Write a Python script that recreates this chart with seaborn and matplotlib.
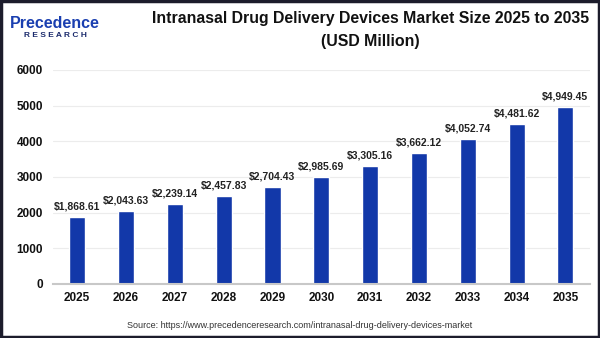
import matplotlib
matplotlib.use('Agg')
import matplotlib.pyplot as plt
import seaborn as sns
import pandas as pd

years = ['2025', '2026', '2027', '2028', '2029', '2030', '2031', '2032', '2033', '2034', '2035']
market_size = [1868.61, 2043.63, 2239.14, 2457.83, 2704.43, 2985.69, 3305.16, 3662.12, 4052.74, 4481.62, 4949.45]
y_ticks = [0, 1000, 2000, 3000, 4000, 5000, 6000]

data = pd.DataFrame({'year': years, 'size': market_size})

sns.set_style('white')
plt.rcParams['font.family'] = ['Liberation Sans', 'DejaVu Sans']

fig = plt.figure(figsize=(6, 3.38), dpi=100)
ax = fig.add_axes([0.088, 0.16, 0.895, 0.633])

bars = sns.barplot(x='year', y='size', data=data, color='#1238a9', width=0.33, saturation=1, ax=ax)
for info in bars.containers:
    bars.bar_label(info, labels=['${:,.2f}'.format(v) for v in market_size],
                   padding=4, fontsize=7.5, fontweight='bold', color='#222222')

ax.set_ylim(0, 6000)
ax.set_xlim(-0.5, 10.5)
ax.set_yticks(y_ticks)
ax.set_yticklabels([str(t) for t in y_ticks], fontsize=8.5, fontweight='bold', color='#111111')
ax.tick_params(axis='x', labelsize=8.5, colors='#111111', length=0, pad=6)
for lbl in ax.get_xticklabels():
    lbl.set_fontweight('bold')
ax.tick_params(axis='y', length=0, pad=7)
ax.set_xlabel('')
ax.set_ylabel('')
ax.grid(axis='y', color='#ececec', linewidth=0.8)
ax.set_axisbelow(True)
for s in ['top', 'right', 'left']:
    ax.spines[s].set_visible(False)
ax.spines['bottom'].set_color('#c8c8c8')
ax.spines['bottom'].set_linewidth(1.5)

fig.text(0.617, 0.945, 'Intranasal Drug Delivery Devices Market Size 2025 to 2035',
         ha='center', va='center', fontsize=11.4, fontweight='bold', color='#111111')
fig.text(0.617, 0.877, '(USD Million)', ha='center', va='center',
         fontsize=11.4, fontweight='bold', color='#111111')

fig.text(0.092, 0.93, 'Precedence', ha='center', va='center', fontsize=11.5,
         fontweight='bold', color='#1a3fb0')
fig.text(0.092, 0.895, 'R E S E A R C H', ha='center', va='center', fontsize=6,
         fontweight='bold', color='#1a2a6c')

fig.text(0.5, 0.038, 'Source: https://www.precedenceresearch.com/intranasal-drug-delivery-devices-market',
         ha='center', va='center', fontsize=6.5, color='#333333')

border = plt.Rectangle((0.002, 0.003), 0.996, 0.994, transform=fig.transFigure,
                       fill=False, edgecolor='#1c1c2c', linewidth=2.5)
fig.patches.append(border)

fig.savefig('out.png', dpi=100)
